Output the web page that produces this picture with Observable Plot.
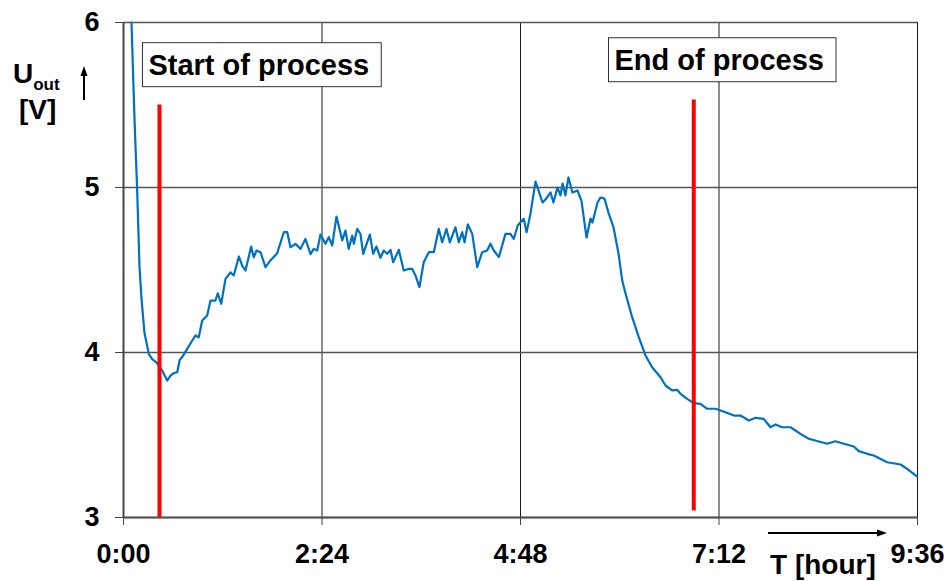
<!DOCTYPE html>
<html><head><meta charset="utf-8">
<script src="https://cdn.jsdelivr.net/npm/d3@7"></script>
<script src="https://cdn.jsdelivr.net/npm/@observablehq/plot@0.6"></script>
<style>
html,body{margin:0;padding:0;background:#fff;}
#chart svg{display:block;}
</style></head><body><div id="chart"></div>
<script>
// time in minutes since start, output voltage in volts
const timeMin = [5.8,8.0,9.9,11.6,13.1,15.2,18.4,20.8,23.9,28.1,31.7,34.1,36.5,39.0,40.8,42.6,46.2,49.1,52.2,54.6,57.1,60.7,63.1,66.7,68.4,70.9,74.0,77.6,80.0,83.7,86.1,88.5,92.6,94.5,96.5,99.4,103.0,106.6,111.5,116.3,118.8,121.1,124.8,128.4,132.0,135.7,138.0,140.5,142.9,146.5,148.9,151.4,154.5,158.7,161.0,163.4,165.9,167.1,169.5,171.9,173.9,178.7,181.1,183.5,186.4,188.8,191.3,193.7,195.6,199.7,203.3,207.0,209.4,211.8,214.7,217.8,221.5,225.1,228.7,231.2,234.3,236.7,240.8,243.2,245.7,247.4,249.8,253.0,256.6,260.2,263.8,266.2,268.6,272.3,277.1,280.7,283.1,286.0,290.4,292.4,295.2,298.9,304.0,306.1,309.8,311.9,314.8,317.0,318.5,320.6,322.8,325.7,329.3,332.2,335.9,338.8,340.2,343.9,346.0,348.9,351.8,355.5,359.1,361.8,364.2,369.0,373.8,378.7,383.5,389.6,393.2,398.0,401.7,404.1,408.9,413.7,418.6,423.4,429.5,436.7,442.8,447.6,453.6,458.5,464.5,469.3,473.0,477.8,483.9,491.1,497.1,510.5,516.5,522.5,529.8,533.4,539.5,544.3,554.0,563.7,568.5,575.8];
const uOut = [6.00,5.41,4.99,4.52,4.32,4.12,3.99,3.96,3.94,3.89,3.83,3.86,3.875,3.88,3.956,3.972,4.022,4.062,4.103,4.092,4.194,4.224,4.315,4.315,4.359,4.295,4.446,4.486,4.467,4.582,4.527,4.497,4.642,4.577,4.618,4.608,4.517,4.558,4.602,4.729,4.729,4.638,4.658,4.628,4.688,4.596,4.628,4.618,4.715,4.659,4.699,4.648,4.824,4.679,4.739,4.628,4.709,4.659,4.749,4.719,4.598,4.715,4.598,4.642,4.574,4.618,4.598,4.622,4.547,4.622,4.497,4.507,4.507,4.467,4.396,4.547,4.608,4.608,4.749,4.668,4.749,4.668,4.759,4.668,4.729,4.668,4.776,4.719,4.517,4.608,4.618,4.659,4.618,4.578,4.719,4.719,4.688,4.770,4.810,4.729,4.840,5.036,4.909,4.927,4.970,4.909,5.000,4.952,5.024,4.952,5.061,4.970,4.982,4.921,4.697,4.812,4.788,4.909,4.939,4.933,4.848,4.758,4.600,4.436,4.358,4.214,4.093,3.982,3.911,3.850,3.800,3.770,3.774,3.749,3.719,3.693,3.689,3.659,3.659,3.638,3.618,3.618,3.588,3.604,3.598,3.547,3.564,3.547,3.547,3.507,3.477,3.447,3.462,3.447,3.430,3.402,3.386,3.376,3.335,3.321,3.295,3.248];

const tickMinutes = [0, 144, 288, 432, 576];
const tickLabels = ["0:00", "2:24", "4:48", "7:12", "9:36"];
const voltTicks = [3, 4, 5, 6];

const eventTimes = [26.1, 413.7];
const eventTop = [5.50, 5.53];
const eventBottom = [3.00, 3.04];
const eventLabels = ["Start of process", "End of process"];
const labelTime = [18.1, 356.2];
const labelVolt = [5.74, 5.77];

const series = timeMin.map((t, i) => ({t, v: uOut[i]}));
const events = eventTimes.map((t, i) => ({t, top: eventTop[i], bottom: eventBottom[i]}));
const labels = eventLabels.map((s, i) => ({s, t: labelTime[i], v: labelVolt[i]}));

const font = "Arial, 'Liberation Sans', sans-serif";

const plot = Plot.plot({
  width: 948, height: 581,
  marginLeft: 123, marginRight: 31, marginTop: 22, marginBottom: 64,
  style: {fontFamily: font, background: "#fff", color: "#000", overflow: "visible"},
  x: {domain: [0, 576]},
  y: {domain: [3, 6]},
  marks: [
    Plot.gridX(tickMinutes, {stroke: "#1a1a1a", strokeOpacity: 1, strokeWidth: 1}),
    Plot.gridY(voltTicks, {stroke: "#555", strokeOpacity: 1, strokeWidth: 1.5}),
    Plot.ruleX([0], {stroke: "#444", strokeWidth: 2}),
    Plot.ruleY([3], {stroke: "#555", strokeWidth: 2}),
    Plot.axisX(tickMinutes, {tickFormat: d => tickLabels[tickMinutes.indexOf(d)], tickSize: 8, tickPadding: 18, fontSize: 27, fontWeight: "bold", stroke: "#444", label: null}),
    Plot.axisY(voltTicks, {tickFormat: d => String(d), tickSize: 8, tickPadding: 16, fontSize: 27, fontWeight: "bold", stroke: "#444", label: null}),
    Plot.line(series, {x: "t", y: "v", stroke: "#0070C0", strokeWidth: 2.2}),
    Plot.ruleX(events, {x: "t", y1: "bottom", y2: "top", stroke: "#FF0000", strokeWidth: 4}),
    Plot.text(labels, {x: "t", y: "v", text: "s", textAnchor: "start", fontSize: 29, fontWeight: "bold", fill: "#000"})
  ]
});
document.getElementById("chart").appendChild(plot);

const svg = d3.select(plot);
const svgRect = plot.getBoundingClientRect();
// white boxes behind annotation labels
const labelGroup = svg.select('g[aria-label="text"]');
const boxes = [];
labelGroup.selectAll("text").each(function () {
  const r = this.getBoundingClientRect();
  boxes.push({x: r.left - svgRect.left, cy: (r.top + r.bottom) / 2 - svgRect.top, w: r.width});
});
for (const b of boxes) {
  svg.insert("rect", 'g[aria-label="text"]')
    .attr("x", b.x - 6).attr("y", b.cy - 22)
    .attr("width", b.w + 18).attr("height", 44)
    .attr("fill", "#fff").attr("stroke", "#333").attr("stroke-width", 1);
}

const g = svg.append("g").attr("font-family", font).attr("font-weight", "bold").attr("fill", "#000").attr("text-anchor", "start");
const yl = g.append("text").attr("x", 13).attr("y", 83).attr("font-size", 28);
yl.append("tspan").text("U");
yl.append("tspan").attr("font-size", 17).attr("dy", 7).text("out");
g.append("text").attr("x", 19).attr("y", 119).attr("font-size", 28).text("[V]");
g.append("line").attr("x1", 84).attr("x2", 84).attr("y1", 100).attr("y2", 74).attr("stroke", "#000").attr("stroke-width", 2);
g.append("path").attr("d", "M84,66 L80.5,76 L87.5,76 Z");
g.append("line").attr("x1", 768).attr("x2", 878).attr("y1", 533).attr("y2", 533).attr("stroke", "#000").attr("stroke-width", 2);
g.append("path").attr("d", "M887,533 L877,529.5 L877,536.5 Z");
g.append("text").attr("x", 770).attr("y", 574).attr("font-size", 28).text("T [hour]");
</script></body></html>
